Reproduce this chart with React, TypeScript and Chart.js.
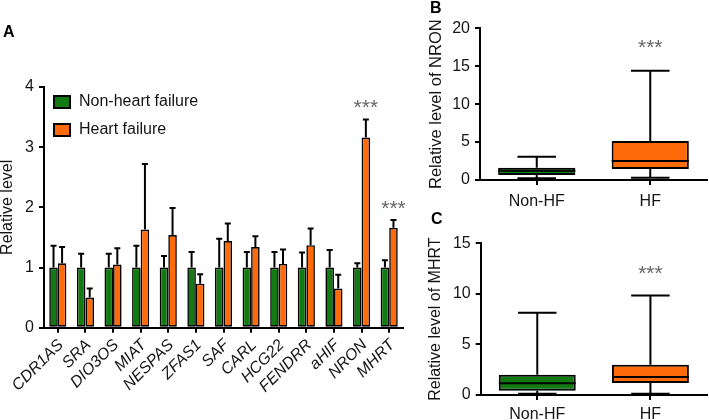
import React, { useEffect, useRef } from "react";
import { Chart, registerables } from "chart.js";
Chart.register(...registerables);

// ---------- Data ----------
const genes = ["CDR1AS", "SRA", "DIO3OS", "MIAT", "NESPAS", "ZFAS1", "SAF", "CARL", "HCG22", "FENDRR", "aHIF", "NRON", "MHRT"];
const nonHFMean = [1, 1, 1, 1, 1, 1, 1, 1, 1, 1, 1, 1, 1];
const nonHFErr = [0.36, 0.23, 0.23, 0.36, 0.19, 0.26, 0.48, 0.26, 0.26, 0.25, 0.29, 0.07, 0.12];
const hfMean = [1.07, 0.5, 1.05, 1.63, 1.54, 0.73, 1.44, 1.34, 1.06, 1.37, 0.65, 3.16, 1.66];
const hfErr = [0.27, 0.15, 0.27, 1.09, 0.45, 0.16, 0.29, 0.18, 0.24, 0.28, 0.23, 0.3, 0.13];
const hfSig = ["", "", "", "", "", "", "", "", "", "", "", "***", "***"];
const barTicksA = [0, 1, 2, 3, 4];

const boxGroups = ["Non-HF", "HF"];
const boxSig = ["", "***"];
const nronMin = [0.22, 0.3];
const nronQ1 = [0.66, 1.45];
const nronMed = [1.22, 2.5];
const nronQ3 = [1.62, 5.13];
const nronMax = [3.07, 14.4];
const mhrtMin = [0.13, 0.13];
const mhrtQ1 = [0.43, 1.19];
const mhrtMed = [1.15, 1.78];
const mhrtQ3 = [2.0, 3.0];
const mhrtMax = [8.13, 9.85];

// ---------- Styles ----------
const GREEN = "#137a13";
const ORANGE = "#ff6a0a";
const FONT = "'Liberation Sans', Arial, Helvetica, sans-serif";
const TEXT = "#151515";
const SIG = "#666";

Chart.defaults.font.family = FONT;
Chart.defaults.color = TEXT;

function axisGrid() {
  return {
    display: true,
    drawOnChartArea: false,
    drawTicks: true,
    tickLength: 5,
    offset: false,
    color: "#000",
    lineWidth: 2,
  };
}

function BarPanel() {
  const ref = useRef<HTMLCanvasElement | null>(null);
  useEffect(() => {
    const canvas = ref.current!;
    const errPlugin = {
      id: "errbars",
      afterDatasetsDraw(chart: any) {
        const ctx = chart.ctx;
        const y = chart.scales.y;
        chart.data.datasets.forEach((ds: any, i: number) => {
          const meta = chart.getDatasetMeta(i);
          meta.data.forEach((bar: any, j: number) => {
            const top = y.getPixelForValue(ds.data[j] + ds.errors[j]);
            ctx.save();
            ctx.strokeStyle = "#000";
            ctx.lineWidth = 2;
            ctx.beginPath();
            ctx.moveTo(bar.x, bar.y);
            ctx.lineTo(bar.x, top);
            ctx.moveTo(bar.x - 3, top);
            ctx.lineTo(bar.x + 3, top);
            ctx.stroke();
            if (ds.sig && ds.sig[j]) {
              ctx.fillStyle = SIG;
              ctx.font = `21px ${FONT}`;
              ctx.textAlign = "center";
              ctx.textBaseline = "middle";
              ctx.fillText(ds.sig[j], bar.x, top - 11);
            }
            ctx.restore();
          });
        });
      },
    };
    const decoPlugin = {
      id: "decoA",
      afterDraw(chart: any) {
        const ctx = chart.ctx;
        const ca = chart.chartArea;
        ctx.save();
        ctx.fillStyle = "#000";
        ctx.font = `bold 16px ${FONT}`;
        ctx.textAlign = "left";
        ctx.textBaseline = "alphabetic";
        ctx.fillText("A", 3, 37);
        chart.data.datasets.forEach((ds: any, i: number) => {
          const bx = ca.left + 10;
          const by = ca.top + 9 + i * 28;
          ctx.fillStyle = ds.backgroundColor;
          ctx.fillRect(bx, by, 16, 12);
          ctx.strokeStyle = "#000";
          ctx.lineWidth = 2;
          ctx.strokeRect(bx, by, 16, 12);
          ctx.fillStyle = TEXT;
          ctx.font = `16px ${FONT}`;
          ctx.textBaseline = "middle";
          ctx.fillText(ds.label, bx + 25, by + 6);
        });
        ctx.restore();
      },
    };
    const chart = new Chart(canvas, {
      type: "bar",
      data: {
        labels: genes,
        datasets: [
          { label: "Non-heart failure", data: nonHFMean, backgroundColor: GREEN, borderColor: "#000", borderWidth: 1.6, borderSkipped: false, errors: nonHFErr } as any,
          { label: "Heart failure", data: hfMean, backgroundColor: ORANGE, borderColor: "#000", borderWidth: 1.6, borderSkipped: false, errors: hfErr, sig: hfSig } as any,
        ],
      },
      options: {
        animation: false,
        responsive: false,
        devicePixelRatio: 1,
        layout: { padding: { top: 87, right: 12, left: 0, bottom: 0 } },
        plugins: { legend: { display: false }, tooltip: { enabled: false } },
        datasets: { bar: { categoryPercentage: 0.62, barPercentage: 1 } },
        scales: {
          x: {
            grid: axisGrid() as any,
            border: { display: true, color: "#000", width: 2 },
            ticks: { font: { size: 16, style: "italic" }, color: TEXT, minRotation: 45, maxRotation: 45, autoSkip: false, padding: 3, labelOffset: 3 },
            afterFit: (s: any) => { s.height = 92.3; },
          },
          y: {
            min: 0,
            max: 4,
            afterBuildTicks: (s: any) => { s.ticks = barTicksA.map((v) => ({ value: v })); },
            ticks: { font: { size: 16 }, color: TEXT, padding: 5 },
            grid: axisGrid() as any,
            border: { display: true, color: "#000", width: 2 },
            title: { display: true, text: "Relative level", font: { size: 16, lineHeight: 1 }, color: TEXT, padding: { top: 0, bottom: 0 } },
            afterFit: (s: any) => { s.width = 44; },
          },
        },
      } as any,
      plugins: [errPlugin, decoPlugin],
    });
    return () => chart.destroy();
  }, []);
  return <canvas ref={ref} width={415} height={420} style={{ width: 415, height: 420, display: "block" }} />;
}

interface BoxProps {
  letter: string;
  letterX: number;
  letterY: number;
  title: string;
  titleSize: number;
  min: number[];
  q1: number[];
  med: number[];
  q3: number[];
  max: number[];
  yMax: number;
  padTop: number;
  axisW: number;
  axisH: number;
  labelPad: number;
  sigOffset: number;
}

function BoxPanel(p: BoxProps) {
  const ref = useRef<HTMLCanvasElement | null>(null);
  useEffect(() => {
    const canvas = ref.current!;
    const boxPlugin = {
      id: "boxes",
      afterDatasetsDraw(chart: any) {
        const ctx = chart.ctx;
        const y = chart.scales.y;
        const meta = chart.getDatasetMeta(0);
        meta.data.forEach((el: any, i: number) => {
          const x = el.x;
          const w = el.width;
          const cap = w / 4;
          const pMin = y.getPixelForValue(p.min[i]);
          const pQ1 = y.getPixelForValue(p.q1[i]);
          const pMed = y.getPixelForValue(p.med[i]);
          const pQ3 = y.getPixelForValue(p.q3[i]);
          const pMax = y.getPixelForValue(p.max[i]);
          ctx.save();
          ctx.strokeStyle = "#000";
          ctx.lineWidth = 2;
          ctx.beginPath();
          ctx.moveTo(x, pQ3); ctx.lineTo(x, pMax);
          ctx.moveTo(x - cap, pMax); ctx.lineTo(x + cap, pMax);
          ctx.moveTo(x, pQ1); ctx.lineTo(x, pMin);
          ctx.moveTo(x - cap, pMin); ctx.lineTo(x + cap, pMin);
          ctx.moveTo(x - w / 2, pMed); ctx.lineTo(x + w / 2, pMed);
          ctx.stroke();
          if (boxSig[i]) {
            ctx.fillStyle = SIG;
            ctx.font = `21px ${FONT}`;
            ctx.textAlign = "center";
            ctx.textBaseline = "middle";
            ctx.fillText(boxSig[i], x, pMax - p.sigOffset);
          }
          ctx.restore();
        });
        ctx.save();
        ctx.fillStyle = "#000";
        ctx.font = `bold 16px ${FONT}`;
        ctx.textAlign = "left";
        ctx.textBaseline = "alphabetic";
        ctx.fillText(p.letter, p.letterX, p.letterY);
        ctx.restore();
      },
    };
    const chart = new Chart(canvas, {
      type: "bar",
      data: {
        labels: boxGroups,
        datasets: [
          {
            data: boxGroups.map((_, i) => [p.q1[i], p.q3[i]]),
            backgroundColor: [GREEN, ORANGE],
            borderColor: "#000",
            borderWidth: 2,
            borderSkipped: false,
          } as any,
        ],
      },
      options: {
        animation: false,
        responsive: false,
        devicePixelRatio: 1,
        layout: { padding: { top: p.padTop, right: 2, left: 0, bottom: 0 } },
        plugins: { legend: { display: false }, tooltip: { enabled: false } },
        datasets: { bar: { categoryPercentage: 1, barPercentage: 0.68 } },
        scales: {
          x: {
            grid: axisGrid() as any,
            border: { display: true, color: "#000", width: 2 },
            ticks: { font: { size: 16 }, color: TEXT, padding: p.labelPad },
            afterFit: (s: any) => { s.height = p.axisH; },
          },
          y: {
            min: 0,
            max: p.yMax,
            ticks: { stepSize: 5, font: { size: 16 }, color: TEXT, padding: 5 },
            grid: axisGrid() as any,
            border: { display: true, color: "#000", width: 2 },
            title: { display: true, text: p.title, font: { size: p.titleSize, lineHeight: 1 }, color: TEXT, padding: { top: 8, bottom: 0 } },
            afterFit: (s: any) => { s.width = p.axisW; },
          },
        },
      } as any,
      plugins: [boxPlugin],
    });
    return () => chart.destroy();
  }, []);
  return <canvas ref={ref} width={289} height={210} style={{ width: 289, height: 210, display: "block" }} />;
}

export default function App() {
  return (
    <div style={{ position: "absolute", left: 0, top: 0, width: 709, height: 420, background: "#fff", overflow: "hidden" }}>
      <div style={{ position: "absolute", left: 0, top: 0 }}>
        <BarPanel />
      </div>
      <div style={{ position: "absolute", left: 420, top: 0 }}>
        <BoxPanel letter="B" letterX={10} letterY={13} title="Relative level of NRON" titleSize={16.5} min={nronMin} q1={nronQ1} med={nronMed} q3={nronQ3} max={nronMax} yMax={20} padTop={28.3} axisW={60} axisH={30} labelPad={7} sigOffset={23} />
      </div>
      <div style={{ position: "absolute", left: 420, top: 210 }}>
        <BoxPanel letter="C" letterX={11} letterY={14} title="Relative level of MHRT" titleSize={16} min={mhrtMin} q1={mhrtQ1} med={mhrtMed} q3={mhrtQ3} max={mhrtMax} yMax={15} padTop={33.3} axisW={60.7} axisH={25} labelPad={5} sigOffset={21} />
      </div>
    </div>
  );
}
